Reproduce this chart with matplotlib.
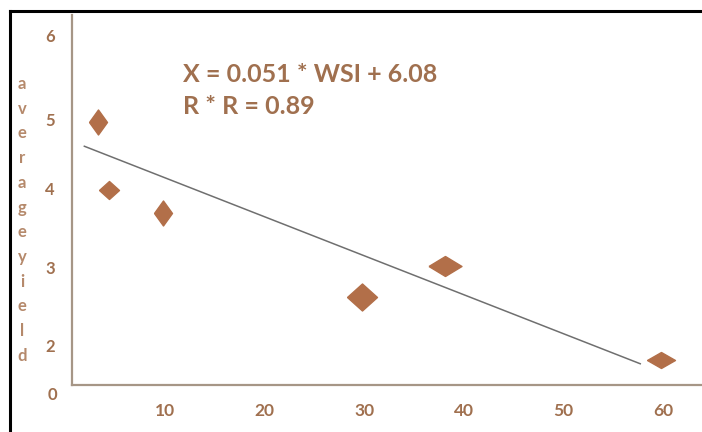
import matplotlib.pyplot as plt
from matplotlib.lines import Line2D

# data
WSI = [3.3, 4.4, 9.8, 29.8, 38.1, 59.8]
YIELD = [4.97, 4.07, 3.76, 2.64, 3.05, 1.80]
TREND_X = [1.9, 57.7]
TREND_Y = [4.65, 1.75]
XTICKS = [10, 20, 30, 40, 50, 60]
YTICK_POS = [1.33, 2, 3.04, 4.09, 5, 6.12]
YTICK_LABELS = ["0", "2", "3", "4", "5", "6"]
EQUATION = "X = 0.051 * WSI + 6.08"
RSQ = "R * R = 0.89"
YLABEL = "averageyield"

# diamond sizes in px (width, height), one per point
MARK_W = [18, 20, 18, 30, 33, 28]
MARK_H = [25, 18, 25, 27, 20, 16]

BROWN = "#b26f49"
TEXT = "#a0704f"
LABEL = "#b5896b"
SPINE = "#a69686"

plt.rcParams["font.family"] = ["Lato", "DejaVu Sans"]

fig = plt.figure(figsize=(7.02, 4.32), dpi=100)
ax = fig.add_axes([72 / 702, (432 - 405) / 432, 630 / 702, (405 - 15) / 432])
ax.set_xlim(0.66, 63.9)
ax.set_ylim(1.2, 6.4)
ax.patch.set_alpha(0)

for s in ["top", "right"]:
    ax.spines[s].set_visible(False)
ax.spines["bottom"].set_position(("data", 1.467))
ax.spines["left"].set_bounds(1.467, 6.4)
for s in ["bottom", "left"]:
    ax.spines[s].set_color(SPINE)
    ax.spines[s].set_linewidth(1.6)

ax.plot(TREND_X, TREND_Y, color="#6f6f6f", lw=1.1, zorder=2)

for x, y, w, h in zip(WSI, YIELD, MARK_W, MARK_H):
    verts = [(-w / 2, 0), (0, h / 2), (w / 2, 0), (0, -h / 2), (-w / 2, 0)]
    ax.plot([x], [y], marker=verts, markersize=max(w, h) * 0.72,
            color=BROWN, markeredgecolor=BROWN, linestyle="none", zorder=3)

ax.set_xticks(XTICKS)
ax.set_xticklabels([str(t) for t in XTICKS])
ax.tick_params(axis="x", length=0, pad=13, labelsize=12.5, labelcolor=TEXT)
for t in ax.get_xticklabels():
    t.set_fontweight("bold")

ax.set_yticks(YTICK_POS[1:])
ax.set_yticklabels(YTICK_LABELS[1:])
ax.tick_params(axis="y", length=0, pad=16, labelsize=12, labelcolor=TEXT)
for t in ax.get_yticklabels():
    t.set_fontweight("bold")
    t.set_horizontalalignment("center")
# the "0" label sits below the x axis line
ax.text(-20 / 630, YTICK_POS[0], YTICK_LABELS[0],
        transform=ax.get_yaxis_transform(), ha="center", va="center",
        fontsize=12, fontweight="bold", color=TEXT)

ax.text(183 / 702, 1 - 75 / 432, EQUATION, transform=fig.transFigure,
        fontsize=18, fontweight="bold", color=TEXT, va="center")
ax.text(183 / 702, 1 - 107 / 432, RSQ, transform=fig.transFigure,
        fontsize=18, fontweight="bold", color=TEXT, va="center")

# stacked vertical axis title, one letter per row
for i, ch in enumerate(YLABEL):
    fig.text(22 / 702, 1 - (84 + i * 24.7) / 432, ch, ha="center", va="center",
             fontsize=12, fontweight="bold", color=LABEL)

# black frame lines around the picture
fig.add_artist(Line2D([10 / 702, 1], [1 - 11 / 432] * 2, color="black", lw=2.2,
                      transform=fig.transFigure))
fig.add_artist(Line2D([10 / 702] * 2, [0, 1 - 11 / 432], color="black", lw=2.2,
                      transform=fig.transFigure))

fig.savefig("out.png", dpi=100)
